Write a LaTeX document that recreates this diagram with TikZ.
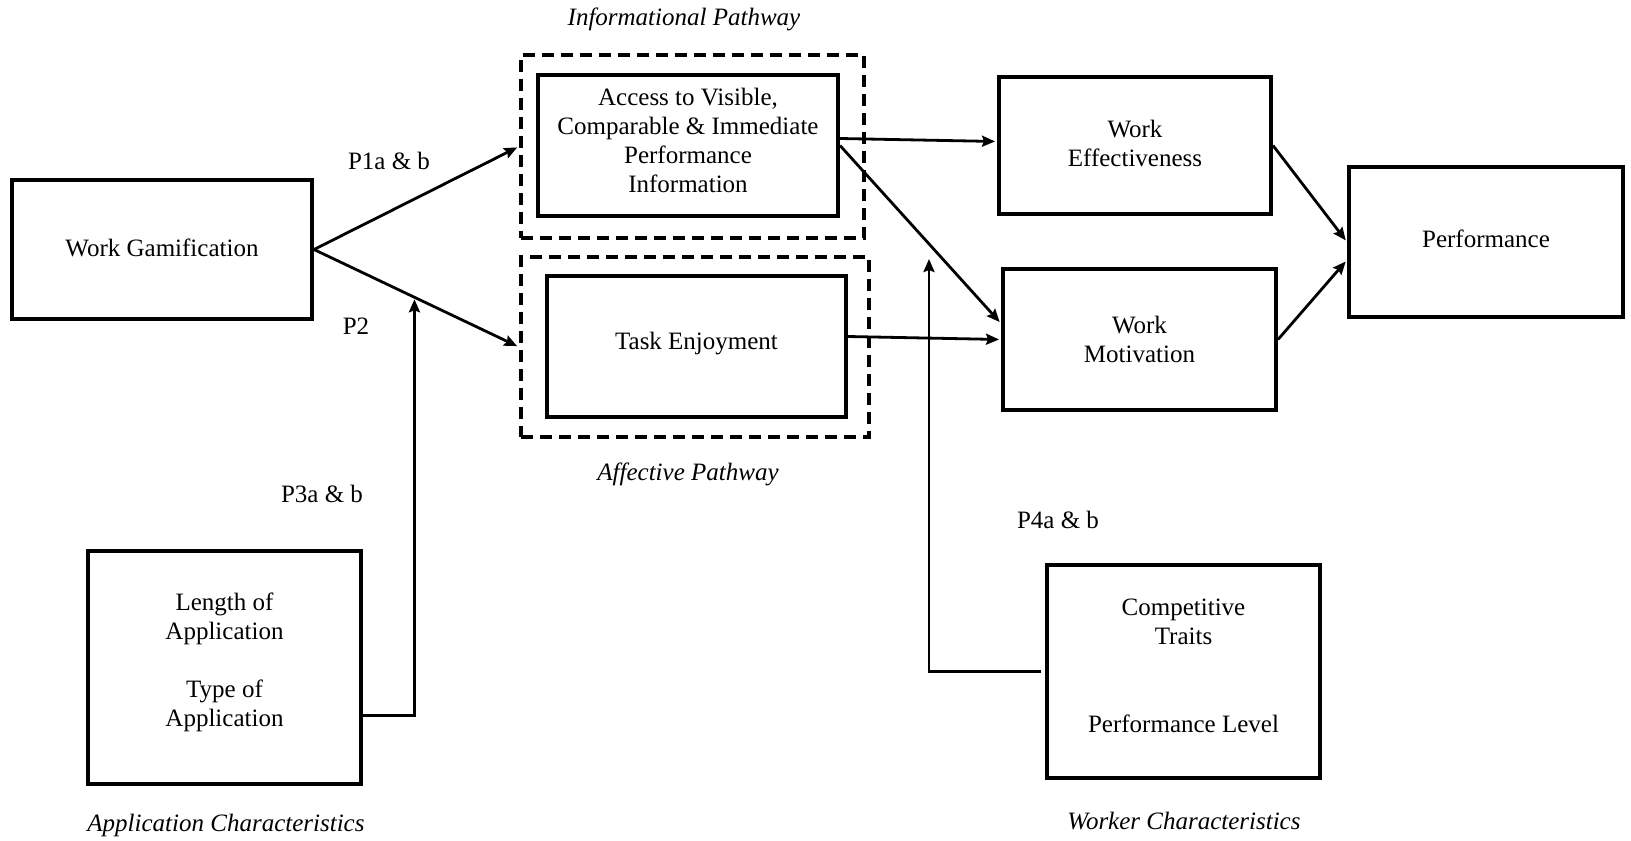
\documentclass[tikz,border=0pt]{standalone}
\usepackage{fontspec}
\setmainfont{Liberation Serif}
\usetikzlibrary{arrows.meta, positioning, calc}
\tikzset{>={Stealth[length=6.5pt,width=5.5pt,inset=1pt]}, auto,
    block/.style={rectangle,draw,line width=2pt,align=center,inner sep=0pt},
    pathbox/.style={rectangle,draw,line width=2pt,dash pattern=on 6pt off 3.5pt},
    link/.style={->,line width=1.4pt,shorten >=1pt},
    textnode/.style={align=center}}

\begin{document}
\begin{tikzpicture}
[x=0.5pt,y=-0.5pt,font=\fontsize{12.5}{14.6}\selectfont]
\useasboundingbox (0,0) rectangle (1631,840);

% pathway frames
\node[pathbox, minimum width=171.5pt, minimum height=91.5pt] (infobox) at (692.5,146.5) {};
\node[pathbox, minimum width=174pt, minimum height=90pt] (affbox) at (695,347) {};

\node[block, minimum width=150pt, minimum height=69.5pt, text depth=2pt] (gam) at (162,249.5) {Work Gamification};
\node[block, minimum width=150pt, minimum height=70.5pt, text depth=5.2pt] (access) at (688,145.5) {Access to Visible,\\Comparable \& Immediate\\Performance\\Information};
\node[block, minimum width=149.5pt, minimum height=70.5pt, text depth=5.8pt] (enjoy) at (696.5,346.5) {Task Enjoyment};
\node[block, minimum width=136pt, minimum height=68.5pt, text depth=2pt] (effect) at (1135,145.5) {Work\\Effectiveness};
\node[block, minimum width=136.5pt, minimum height=70.5pt] (motiv) at (1139.5,339.5) {Work\\Motivation};
\node[block, minimum width=137pt, minimum height=75pt, text depth=3.1pt] (perf) at (1486,242) {Performance};
\node[block, minimum width=136.5pt, minimum height=116.5pt, text depth=7.9pt] (appl) at (224.5,667.5) {Length of\\Application\\[14.6pt]Type of\\Application};
\node[block, minimum width=136.5pt, minimum height=106.5pt, text depth=5.8pt] (worker) at (1183.5,671.5) {Competitive\\Traits\\[29pt]Performance Level};

\node[textnode] (infolab) at (684,19) {\itshape Informational Pathway};
\node[textnode] (afflab) at (688,474) {\itshape Affective Pathway};
\node[textnode] (appllab) at (226,825) {\itshape Application Characteristics};
\node[textnode] (worklab) at (1184,821) {\itshape Worker Characteristics};

\node[textnode] (p1) at (389,161) {P1a \& b};
\node[textnode] (p2) at (356,326) {P2};
\node[textnode] (p3) at (322,494) {P3a \& b};
\node[textnode] (p4) at (1058,520) {P4a \& b};

\coordinate (m1) at ($(gam.east)!0.49!(affbox.west)$);
\coordinate (m2) at (929,257);

\path[link]
	(gam.east)	edge 	(infobox.west)
	(gam.east)	edge 	(affbox.west)
	([yshift=3.5pt]access.east)	edge 	([yshift=2pt]effect.west)
	(access.east)	edge 	([yshift=8pt]motiv.west)
	([yshift=5pt]enjoy.east)	edge 	(motiv.west)
	(effect.east)	edge 	(perf.west)
	(motiv.east)	edge 	([yshift=-9pt]perf.west);

\draw[link] ([yshift=-24pt]appl.east) -| (m1);
\draw[link] ([xshift=-2pt]worker.west) -| (m2);
\end{tikzpicture}
\end{document}
